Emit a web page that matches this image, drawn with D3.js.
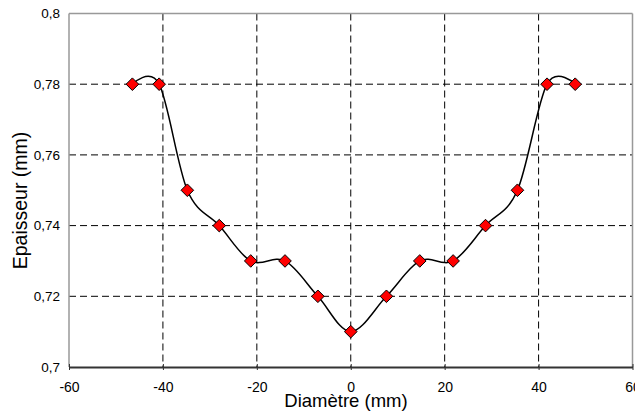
<!DOCTYPE html>
<html><head><meta charset="utf-8">
<script src="https://cdn.jsdelivr.net/npm/d3@7"></script>
<style>body{margin:0;background:#fff}svg{display:block}text{font-family:"Liberation Sans",Arial,sans-serif;fill:#000}</style>
</head><body><svg id="c" width="635" height="414"></svg>
<script>
const diametre = [-46.5, -40.8, -34.8, -28, -21.3, -14, -7, 0, 7.6, 14.7, 21.8, 28.7, 35.5, 41.8, 47.8];
const epaisseur = [0.78, 0.78, 0.75, 0.74, 0.73, 0.73, 0.72, 0.71, 0.72, 0.73, 0.73, 0.74, 0.75, 0.78, 0.78];
const xTicks = [-60, -40, -20, 0, 20, 40, 60];
const yTicks = [0.7, 0.72, 0.74, 0.76, 0.78, 0.8];
const xTitle = "Diamètre (mm)";
const yTitle = "Epaisseur (mm)";

const svg = d3.select("#c");
const L = 69, R = 632.5, T = 13.5, B = 367;
const x = d3.scaleLinear().domain([-60, 60]).range([L, R]);
const y = d3.scaleLinear().domain([0.7, 0.8]).range([B, T]);
const fmt = v => d3.format("")(+v.toFixed(2)).replace(".", ",");

// gridlines
svg.append("g").selectAll("line").data(yTicks.filter(v => v > 0.7 && v < 0.8)).join("line")
  .attr("x1", L).attr("x2", R).attr("y1", d => y(d)).attr("y2", d => y(d))
  .attr("stroke", "#000").attr("stroke-width", 1).attr("stroke-dasharray", "7,4");
svg.append("g").selectAll("line").data(xTicks.filter(v => v > -60 && v < 60)).join("line")
  .attr("y1", T).attr("y2", B).attr("x1", d => x(d)).attr("x2", d => x(d))
  .attr("stroke", "#000").attr("stroke-width", 1).attr("stroke-dasharray", "7,4");

// frame
svg.append("line").attr("x1", L).attr("x2", R).attr("y1", T).attr("y2", T).attr("stroke", "#999").attr("stroke-width", 1.5);
svg.append("line").attr("x1", R).attr("x2", R).attr("y1", T).attr("y2", B).attr("stroke", "#999").attr("stroke-width", 1.5);
svg.append("line").attr("x1", L).attr("x2", L).attr("y1", T).attr("y2", B).attr("stroke", "#999").attr("stroke-width", 1.5);

// x axis
const xa = svg.append("g").attr("transform", `translate(0,${B})`)
  .call(d3.axisBottom(x).tickValues(xTicks).tickSize(4).tickSizeOuter(0).tickPadding(11).tickFormat(d => d));
xa.select(".domain").attr("stroke", "#333").attr("stroke-width", 2);
xa.selectAll(".tick line").attr("stroke", "#333").attr("y1", -3).attr("y2", 3);
xa.selectAll("text").attr("font-size", 14).attr("font-family", "Liberation Sans, Arial, sans-serif");

// y axis labels
const ya = svg.append("g").attr("transform", `translate(${L},0)`)
  .call(d3.axisLeft(y).tickValues(yTicks).tickSize(0).tickPadding(9).tickFormat(fmt));
ya.select(".domain").remove();
ya.selectAll("text").attr("font-size", 13.5).attr("font-family", "Liberation Sans, Arial, sans-serif");

// curve
const line = d3.line().x((d, i) => x(diametre[i])).y(d => y(d)).curve(d3.curveCardinal.tension(0));
svg.append("path").datum(epaisseur).attr("d", line).attr("fill", "none").attr("stroke", "#000").attr("stroke-width", 1.5);

// markers
const s = 6.3;
svg.append("g").selectAll("path").data(epaisseur).join("path")
  .attr("transform", (d, i) => `translate(${x(diametre[i])},${y(d)})`)
  .attr("d", `M0,${-s}L${s},0L0,${s}L${-s},0Z`)
  .attr("fill", "#ff0000").attr("stroke", "#000").attr("stroke-width", 1);

// titles
svg.append("text").attr("x", 346).attr("y", 407).attr("text-anchor", "middle").attr("font-size", 18.5).text(xTitle);
svg.append("text").attr("transform", "translate(27,200.5) rotate(-90)").attr("text-anchor", "middle").attr("font-size", 19.5).text(yTitle);
</script></body></html>
